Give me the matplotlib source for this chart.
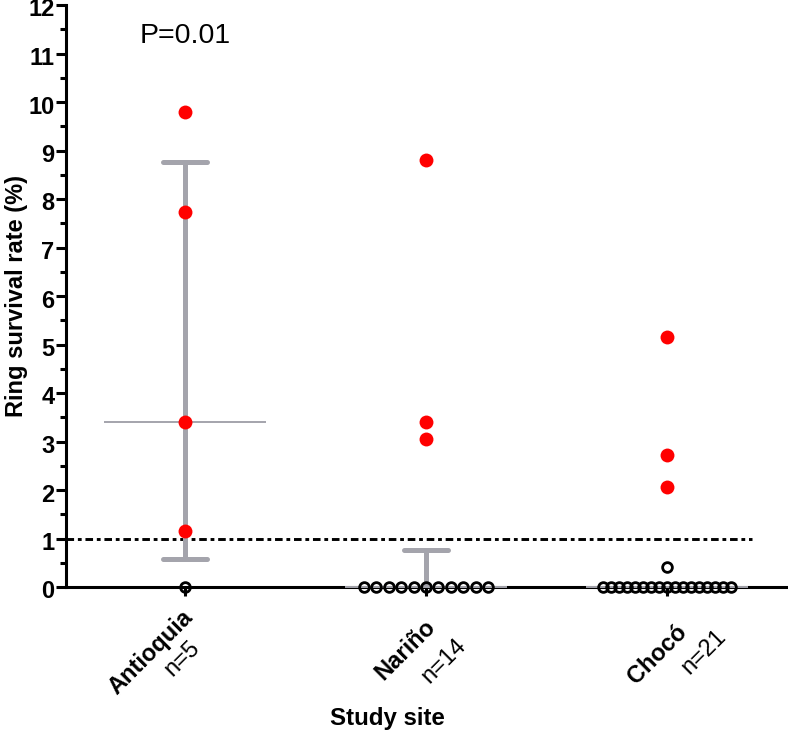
import matplotlib
matplotlib.use('Agg')
import matplotlib.pyplot as plt
import numpy as np
from matplotlib.transforms import offset_copy, blended_transform_factory

# ---------------- data ----------------
sites = ['Antioquia', 'Nariño', 'Chocó']
n_labels = ['n=5', 'n=14', 'n=21']
antioquia = [9.8, 7.73, 3.4, 1.15, 0.0]
narino = [8.8, 3.4, 3.05, 0.0, 0.0, 0.0, 0.0, 0.0, 0.0, 0.0, 0.0, 0.0, 0.0, 0.0]
choco = [5.15, 2.73, 2.07, 0.42, 0.0, 0.0, 0.0, 0.0, 0.0, 0.0, 0.0, 0.0, 0.0,
         0.0, 0.0, 0.0, 0.0, 0.0, 0.0, 0.0, 0.0]
groups = [antioquia, narino, choco]
threshold = 1.0
p_text = 'P=0.01'
y_ticks = list(range(0, 13))

# ---------------- style ----------------
W, H, DPI = 788, 732, 100
FONT = 'Liberation Sans'
GRAY = '#A4A4AC'
RED = '#FF0000'
PX_PER_UNIT = 241.0  # horizontal pixels between columns
PT = 0.72  # points per pixel at 100 dpi

# label offsets from tick (pixels: right, down) for main and n= lines
main_off = [(4, 27), (6, 36), (16, 42)]
n_off = [(11, 57), (37, 55), (56, 46)]


def prism_percentile(vals, p):
    s = sorted(vals)
    n = len(s)
    h = (n + 1) * p
    lo = int(np.floor(h))
    frac = h - lo
    if lo < 1:
        return s[0]
    if lo >= n:
        return s[-1]
    return s[lo - 1] + frac * (s[lo] - s[lo - 1])


def spread_offsets(k, spacing_px=12.4, max_px=128.0):
    if k <= 1:
        return np.zeros(k)
    sp = min(spacing_px, max_px / (k - 1))
    return (np.arange(k) - (k - 1) / 2.0) * sp / PX_PER_UNIT


fig = plt.figure(figsize=(W / DPI, H / DPI), dpi=DPI)
left_px, right_px, bottom_px, top_px = 66, 788, 587, 5
ax = fig.add_axes([left_px / W, (H - bottom_px) / H,
                   (right_px - left_px) / W, (bottom_px - top_px) / H])

xmin = -(185 - left_px) / PX_PER_UNIT
xmax = xmin + (right_px - left_px) / PX_PER_UNIT
ax.set_xlim(xmin, xmax)
ax.set_ylim(0, 12)

for i, vals in enumerate(groups):
    med = prism_percentile(vals, 0.5)
    q1 = prism_percentile(vals, 0.25)
    q3 = prism_percentile(vals, 0.75)
    ax.plot([i - 0.336, i + 0.336], [med, med], color=GRAY, lw=1.4,
            zorder=3, clip_on=False, solid_capstyle='butt')
    cap = 0.092
    if q3 > med:
        ax.plot([i, i], [med, q3], color=GRAY, lw=3.6, zorder=2.6,
                solid_capstyle='butt')
        ax.plot([i - cap, i + cap], [q3, q3], color=GRAY, lw=3.6,
                zorder=2.6, solid_capstyle='round')
    if q1 < med:
        ax.plot([i, i], [q1, med], color=GRAY, lw=3.6, zorder=2.6,
                solid_capstyle='butt')
        ax.plot([i - cap, i + cap], [q1, q1], color=GRAY, lw=3.6,
                zorder=2.6, solid_capstyle='round')
    counts = {}
    for v in vals:
        counts[v] = counts.get(v, 0) + 1
    for v, k in counts.items():
        xs = i + spread_offsets(k)
        ys = np.full(k, v)
        if v > threshold:
            ax.plot(xs, ys, 'o', ms=10, color=RED, mec=RED, mew=0,
                    zorder=4, clip_on=False)
        else:
            ax.plot(xs, ys, 'o', ms=7.0, mfc='none', mec='black', mew=2.0,
                    zorder=4, clip_on=False)

# threshold dashed line
ax.plot([xmin, (752 - 185) / PX_PER_UNIT], [threshold, threshold],
        color='black', lw=2.1, dashes=(2.6, 1.3, 1.3, 1.3), zorder=2)

# P value
ax.text(0, 11.36, p_text, ha='center', va='center', fontsize=20.5,
        family=FONT)

# axes styling
for s in ['top', 'right']:
    ax.spines[s].set_visible(False)
for s in ['left', 'bottom']:
    ax.spines[s].set_linewidth(2.2)
ax.set_yticks(y_ticks)
ax.set_yticks(np.arange(0.5, 12, 1.0), minor=True)
ax.set_yticklabels([])
ax.tick_params(axis='y', which='major', length=7, width=2.2)
ax.tick_params(axis='y', which='minor', length=4, width=2.2)

# y tick labels drawn as texts (digits centred slightly below the tick)
ylab_tr = offset_copy(blended_transform_factory(ax.transAxes, ax.transData),
                      fig=fig, x=-11.5 * PT, y=-11.5 * PT, units='points')
for t in y_ticks:
    ax.text(0, t, str(t), ha='right', va='baseline', fontsize=17,
            fontweight='bold', family=FONT, transform=ylab_tr, clip_on=False)

ax.set_xticks(range(len(sites)))
ax.set_xticklabels([])
ax.tick_params(axis='x', which='major', length=6.5, width=2.2)

# x tick labels (rotated, two lines)
for i, (site, nl) in enumerate(zip(sites, n_labels)):
    t1 = offset_copy(ax.transData, fig=fig, x=main_off[i][0] * PT,
                     y=-main_off[i][1] * PT, units='points')
    ax.text(i, 0, site, rotation=45, rotation_mode='anchor', ha='right',
            va='center', fontsize=17, fontweight='bold', family=FONT,
            transform=t1, clip_on=False)
    t2 = offset_copy(ax.transData, fig=fig, x=n_off[i][0] * PT,
                     y=-n_off[i][1] * PT, units='points')
    ax.text(i, 0, nl, rotation=45, rotation_mode='anchor', ha='right',
            va='center', fontsize=17, family=FONT, transform=t2,
            clip_on=False)

ax.set_ylabel('Ring survival rate (%)', fontsize=17, fontweight='bold',
              family=FONT)
ax.yaxis.set_label_coords((28 - left_px) / (right_px - left_px), 0.5)
fig.text(387 / W, 1 - 718 / H, 'Study site', ha='center', va='center',
         fontsize=17.3, fontweight='bold', family=FONT)

fig.savefig('out.png', dpi=DPI)
